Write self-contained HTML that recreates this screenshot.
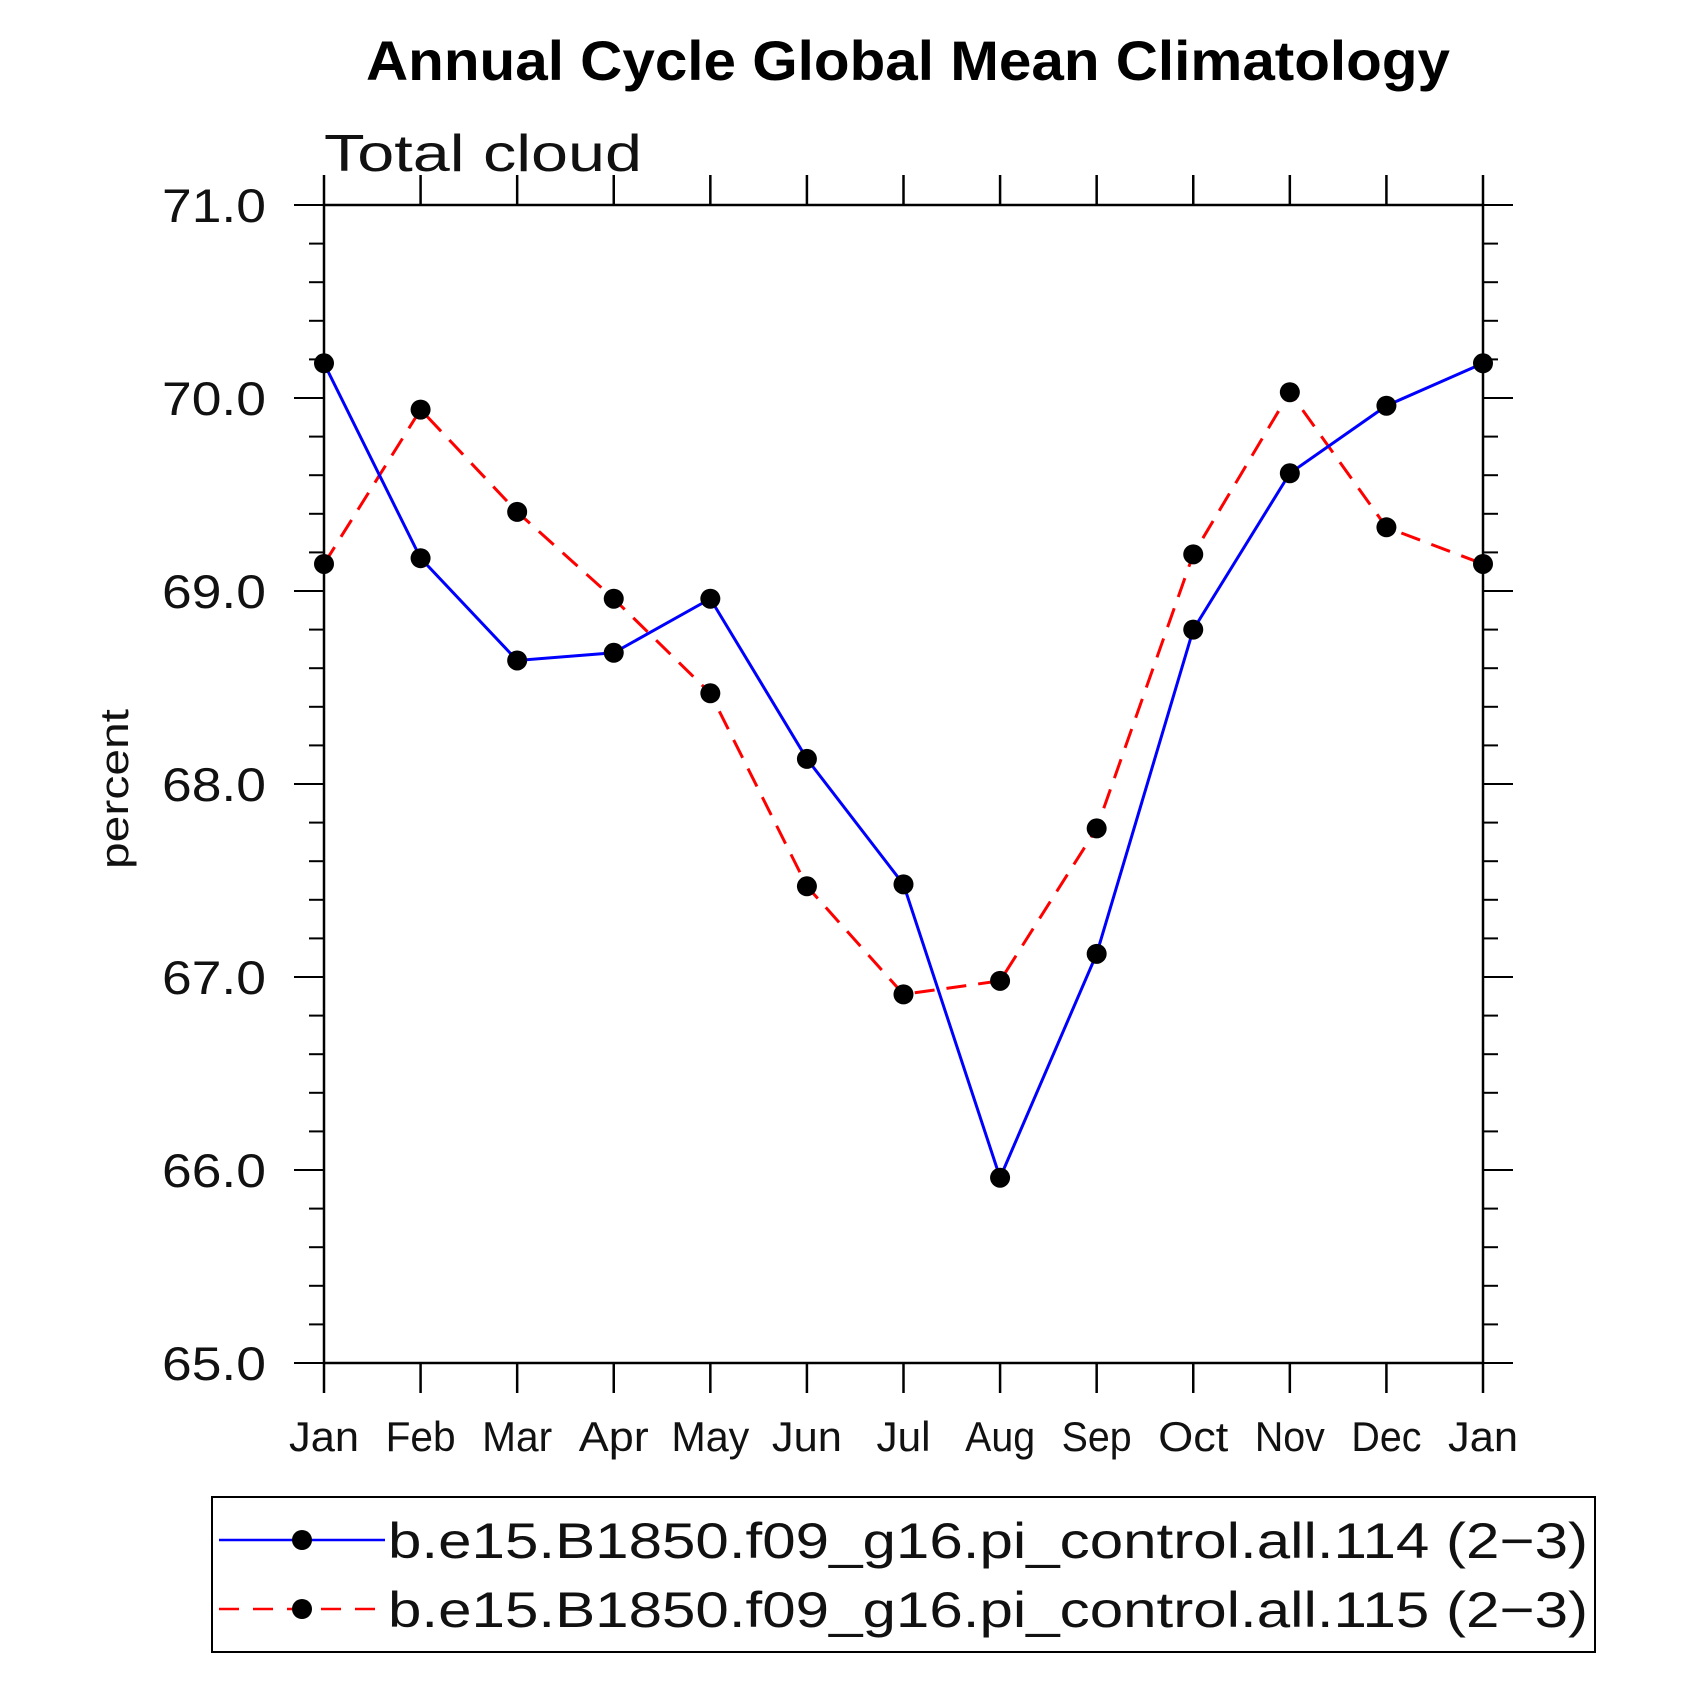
<!DOCTYPE html>
<html><head><meta charset="utf-8"><style>
html,body{margin:0;padding:0;background:#fff}
svg{display:block}
text{font-family:"Liberation Sans",sans-serif;fill:#111}
</style></head><body>
<svg id="chart" width="1691" height="1691" viewBox="0 0 1691 1691" xmlns="http://www.w3.org/2000/svg">
<text x="908" y="80" text-anchor="middle" font-size="56" font-weight="bold" style="fill:#000" textLength="1084" lengthAdjust="spacingAndGlyphs">Annual Cycle Global Mean Climatology</text>
<text x="324" y="171" font-size="52" textLength="318" lengthAdjust="spacingAndGlyphs">Total cloud</text>
<text transform="translate(128,789) rotate(-90)" text-anchor="middle" font-size="40" textLength="160" lengthAdjust="spacingAndGlyphs">percent</text>
<g id="axes"></g>
<g id="series"></g>
<g id="legend">
<rect x="212" y="1497" width="1383" height="155" fill="none" stroke="#000" stroke-width="2"/>
<g>
<line x1="219" y1="1540" x2="385" y2="1540" stroke="#0000ff" stroke-width="2.5"/>
<circle cx="302" cy="1540" r="10" fill="#000"/>
<text x="388" y="1558" font-size="50" textLength="1200" lengthAdjust="spacingAndGlyphs">b.e15.B1850.f09_g16.pi_control.all.114 (2−3)</text>
</g>
<g>
<line x1="219" y1="1609" x2="385" y2="1609" stroke="#ff0000" stroke-width="2.5" stroke-dasharray="20,14"/>
<circle cx="302" cy="1609" r="10" fill="#000"/>
<text x="388" y="1627" font-size="50" textLength="1200" lengthAdjust="spacingAndGlyphs">b.e15.B1850.f09_g16.pi_control.all.115 (2−3)</text>
</g>
</g>
</svg>
<script>
const months = ["Jan","Feb","Mar","Apr","May","Jun","Jul","Aug","Sep","Oct","Nov","Dec","Jan"];
const series114 = [70.18,69.17,68.64,68.68,68.96,68.13,67.48,65.96,67.12,68.80,69.61,69.96,70.18];
const series115 = [69.14,69.94,69.41,68.96,68.47,67.47,66.91,66.98,67.77,69.19,70.03,69.33,69.14];
const yTickLabels = ["65.0","66.0","67.0","68.0","69.0","70.0","71.0"];
const yMin = 65, yMax = 71;
const X0=324, X1=1483, Y0=1363, Y1=205;
const NS="http://www.w3.org/2000/svg";
function xs(i){return X0+(X1-X0)*i/(months.length-1);}
function ys(v){return Y0-(Y0-Y1)*(v-yMin)/(yMax-yMin);}
function mk(tag,attrs,parent){const e=document.createElementNS(NS,tag);for(const k in attrs)e.setAttribute(k,attrs[k]);parent.appendChild(e);return e;}
const axes=document.getElementById('axes');
const frame=mk('rect',{x:X0,y:Y1,width:X1-X0,height:Y0-Y1,fill:'none',stroke:'#000','stroke-width':2.5},axes);


months.forEach((m,i)=>{
  const x=xs(i);
  const t1=mk('line',{x1:x,y1:Y0,x2:x,y2:Y0+30,stroke:'#000','stroke-width':2.5},axes);
  
  
  const t2=mk('line',{x1:x,y1:Y1,x2:x,y2:Y1-30,stroke:'#000','stroke-width':2.5},axes);
  
  
  const w = m==='May'?78:(m==='Jul'?54:70);
  const l=mk('text',{x:x,y:1451,'text-anchor':'middle','font-size':42,textLength:w,lengthAdjust:'spacingAndGlyphs'},axes);
  
  
  l.textContent=m;
});
for(let k=0;k<=30;k++){
  const v=yMin+k*0.2, y=ys(v), major=(k%5===0), len=major?30:15;
  const a=mk('line',{x1:X0-len,y1:y,x2:X0,y2:y,stroke:'#000','stroke-width':2},axes);
  
  
  const b=mk('line',{x1:X1,y1:y,x2:X1+len,y2:y,stroke:'#000','stroke-width':2},axes);
  
  
}
yTickLabels.forEach((s,i)=>{
  const t=mk('text',{x:266,y:ys(yMin+i)+17,'text-anchor':'end','font-size':47,textLength:104,lengthAdjust:'spacingAndGlyphs'},axes);
  
  
  t.textContent=s;
});
const ser=document.getElementById('series');
function draw(vals,color,dash,name){
  const pts=vals.map((v,i)=>xs(i)+','+ys(v)).join(' ');
  const pl=mk('polyline',{points:pts,fill:'none',stroke:color,'stroke-width':3},ser);
  if(dash)pl.setAttribute('stroke-dasharray',dash);
  
  
  vals.forEach((v,i)=>{
    const c=mk('circle',{cx:xs(i),cy:ys(v),r:10,fill:'#000'},ser);
    
    
  });
}
draw(series115,'#ff0000','20,12','series-115');
draw(series114,'#0000ff',null,'series-114');
</script>
</body></html>
